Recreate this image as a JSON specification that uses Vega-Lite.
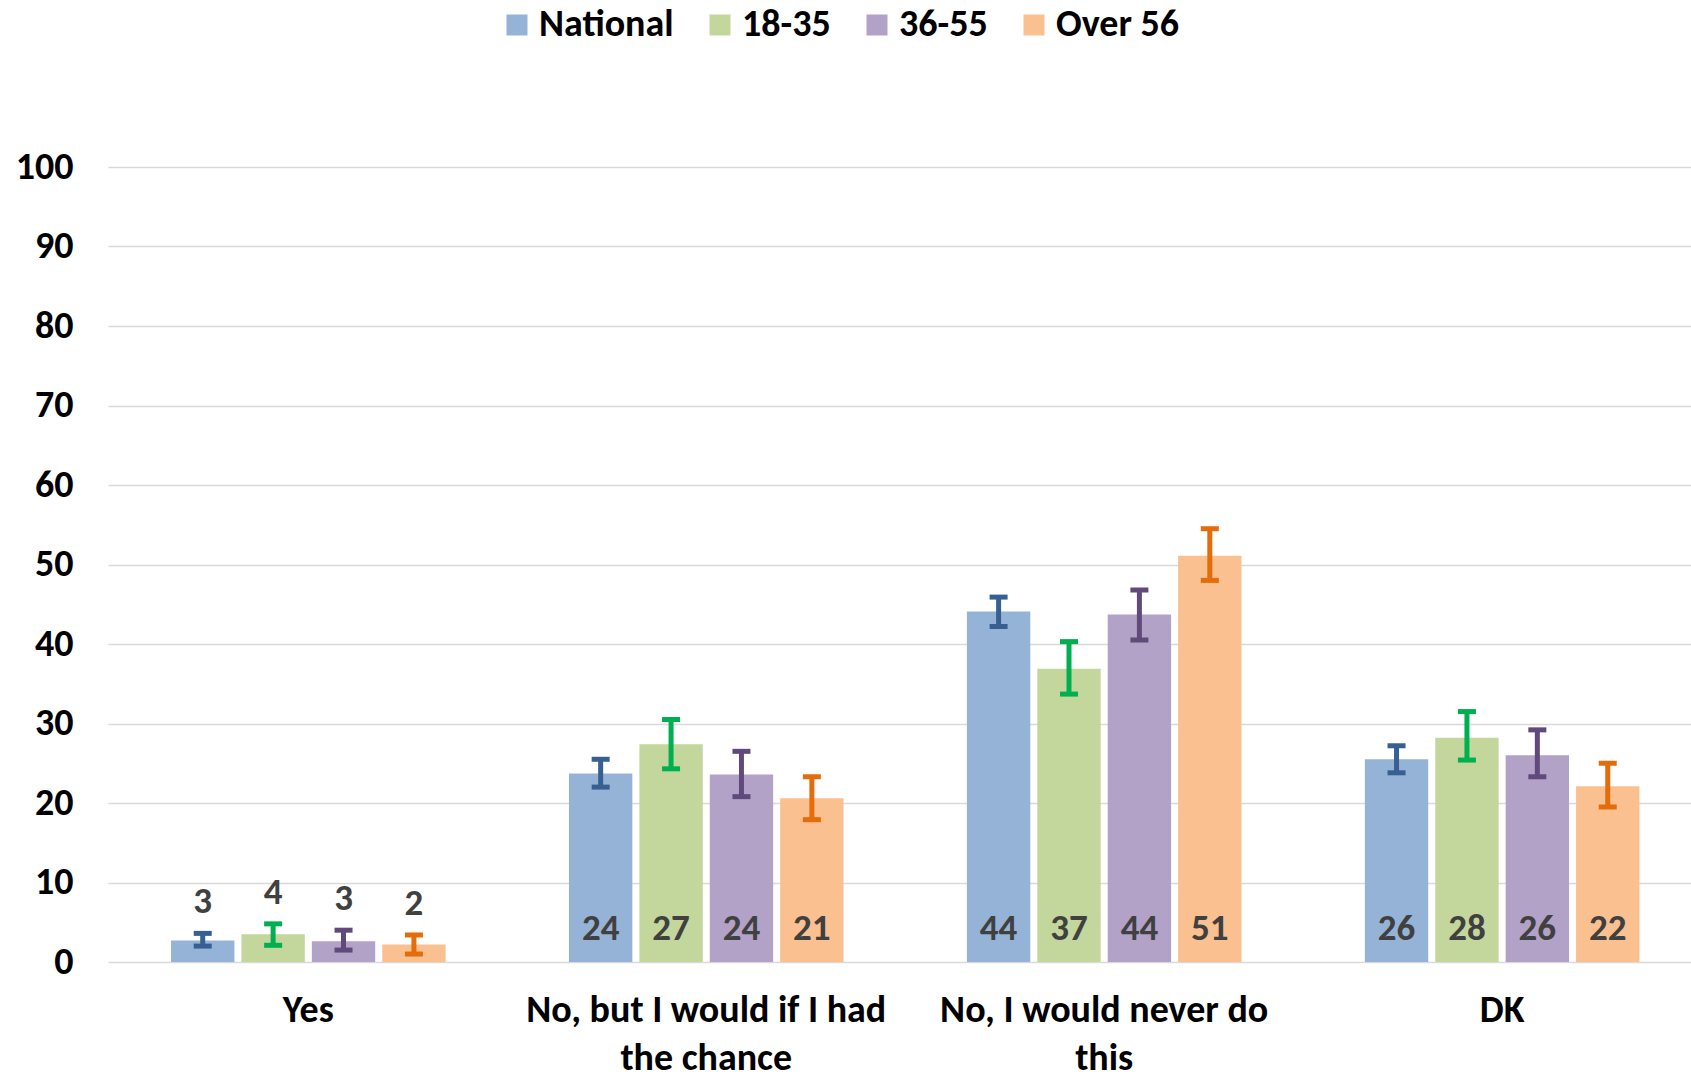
{
  "$schema": "https://vega.github.io/schema/vega-lite/v6.json",
  "autosize": {"type": "none"},
  "width": 1583,
  "height": 795,
  "padding": {"left": 108, "top": 167, "right": 0, "bottom": 114},
  "background": "white",
  "config": {
    "view": {"stroke": null},
    "font": "Carlito, Lato, sans-serif",
    "axis": {"labelFont": "Carlito, Lato, sans-serif", "labelFontWeight": "bold", "labelColor": "#000000"},
    "legend": {"labelFont": "Carlito, Lato, sans-serif", "labelFontWeight": "bold"}
  },
  "data": {
    "values": [
      {"category": "Yes", "group": "National", "value": 2.7, "low": 2.0, "high": 3.6},
      {"category": "Yes", "group": "18-35", "value": 3.5, "low": 2.1, "high": 4.8},
      {"category": "Yes", "group": "36-55", "value": 2.6, "low": 1.5, "high": 4.0},
      {"category": "Yes", "group": "Over 56", "value": 2.2, "low": 1.0, "high": 3.4},
      {"category": "No, but I would if I had the chance", "group": "National", "value": 23.7, "low": 22.0, "high": 25.5},
      {"category": "No, but I would if I had the chance", "group": "18-35", "value": 27.4, "low": 24.3, "high": 30.5},
      {"category": "No, but I would if I had the chance", "group": "36-55", "value": 23.6, "low": 20.8, "high": 26.5},
      {"category": "No, but I would if I had the chance", "group": "Over 56", "value": 20.6, "low": 17.9, "high": 23.3},
      {"category": "No, I would never do this", "group": "National", "value": 44.1, "low": 42.2, "high": 45.9},
      {"category": "No, I would never do this", "group": "18-35", "value": 36.9, "low": 33.7, "high": 40.3},
      {"category": "No, I would never do this", "group": "36-55", "value": 43.7, "low": 40.5, "high": 46.8},
      {"category": "No, I would never do this", "group": "Over 56", "value": 51.1, "low": 48.0, "high": 54.5},
      {"category": "DK", "group": "National", "value": 25.5, "low": 23.8, "high": 27.2},
      {"category": "DK", "group": "18-35", "value": 28.2, "low": 25.4, "high": 31.5},
      {"category": "DK", "group": "36-55", "value": 26.0, "low": 23.3, "high": 29.2},
      {"category": "DK", "group": "Over 56", "value": 22.1, "low": 19.5, "high": 25.0}
    ]
  },
  "encoding": {
    "x": {
      "field": "category",
      "type": "nominal",
      "sort": ["Yes", "No, but I would if I had the chance", "No, I would never do this", "DK"],
      "scale": {"paddingInner": 0.31, "paddingOuter": 0.144, "align": 0.55},
      "axis": {
        "title": null,
        "labelAngle": 0,
        "labelFontSize": 38,
        "labelLineHeight": 48,
        "labelPadding": 29,
        "labelLimit": 500,
        "ticks": false,
        "domain": false,
        "grid": false,
        "labelExpr": "datum.value == 'No, but I would if I had the chance' ? ['No, but I would if I had', 'the chance'] : datum.value == 'No, I would never do this' ? ['No, I would never do', 'this'] : datum.value"
      }
    },
    "xOffset": {
      "field": "group",
      "type": "nominal",
      "sort": ["National", "18-35", "36-55", "Over 56"],
      "scale": {"paddingInner": 0.1, "paddingOuter": 0}
    }
  },
  "layer": [
    {
      "mark": {"type": "bar"},
      "encoding": {
        "y": {
          "field": "value",
          "type": "quantitative",
          "scale": {"domain": [0, 100]},
          "axis": {
            "title": null,
            "values": [0, 10, 20, 30, 40, 50, 60, 70, 80, 90, 100],
            "labelFontSize": 38,
            "labelPadding": 35,
            "ticks": false,
            "domain": false,
            "gridColor": "#D9D9D9",
            "gridWidth": 1.5
          }
        },
        "color": {
          "field": "group",
          "type": "nominal",
          "sort": ["National", "18-35", "36-55", "Over 56"],
          "scale": {"domain": ["National", "18-35", "36-55", "Over 56"], "range": ["#95B3D7", "#C3D69B", "#B2A2C7", "#FAC090"]},
          "legend": {
            "title": null,
            "orient": "none",
            "direction": "horizontal",
            "legendX": 390,
            "legendY": -161,
            "symbolType": "square",
            "symbolSize": 441,
            "symbolStrokeWidth": 0,
            "symbolOpacity": 1,
            "labelFontSize": 38,
            "labelColor": "#000000",
            "labelOffset": 3,
            "columnPadding": 27,
            "padding": 0,
            "labelLimit": 300
          }
        }
      }
    },
    {
      "mark": {"type": "rule", "color": "#D9D9D9", "strokeWidth": 2},
      "encoding": {"y": {"datum": 0}}
    },
    {
      "transform": [{"filter": "datum.category != 'Yes'"}],
      "mark": {"type": "text", "fontSize": 37, "fontWeight": "bold", "color": "#404040", "baseline": "middle", "dy": -33},
      "encoding": {
        "y": {"datum": 0},
        "text": {"field": "value", "type": "quantitative", "format": ".0f"}
      }
    },
    {
      "transform": [{"filter": "datum.category == 'Yes'"}],
      "mark": {"type": "text", "fontSize": 37, "fontWeight": "bold", "color": "#404040", "baseline": "middle", "dy": -31},
      "encoding": {
        "y": {"field": "high", "type": "quantitative"},
        "text": {"field": "value", "type": "quantitative", "format": ".0f"}
      }
    },
    {
      "encoding": {
        "color": {
          "field": "group",
          "type": "nominal",
          "scale": {"domain": ["National", "18-35", "36-55", "Over 56"], "range": ["#376092", "#00B050", "#604A7B", "#E46C0A"]},
          "legend": null
        }
      },
      "layer": [
        {
          "mark": {"type": "rule", "strokeWidth": 5},
          "encoding": {
            "y": {"field": "low", "type": "quantitative"},
            "y2": {"field": "high"}
          }
        },
        {
          "mark": {"type": "tick", "size": 18, "thickness": 5, "opacity": 1},
          "encoding": {"y": {"field": "low", "type": "quantitative"}}
        },
        {
          "mark": {"type": "tick", "size": 18, "thickness": 5, "opacity": 1},
          "encoding": {"y": {"field": "high", "type": "quantitative"}}
        }
      ]
    }
  ],
  "resolve": {"scale": {"color": "independent"}}
}
